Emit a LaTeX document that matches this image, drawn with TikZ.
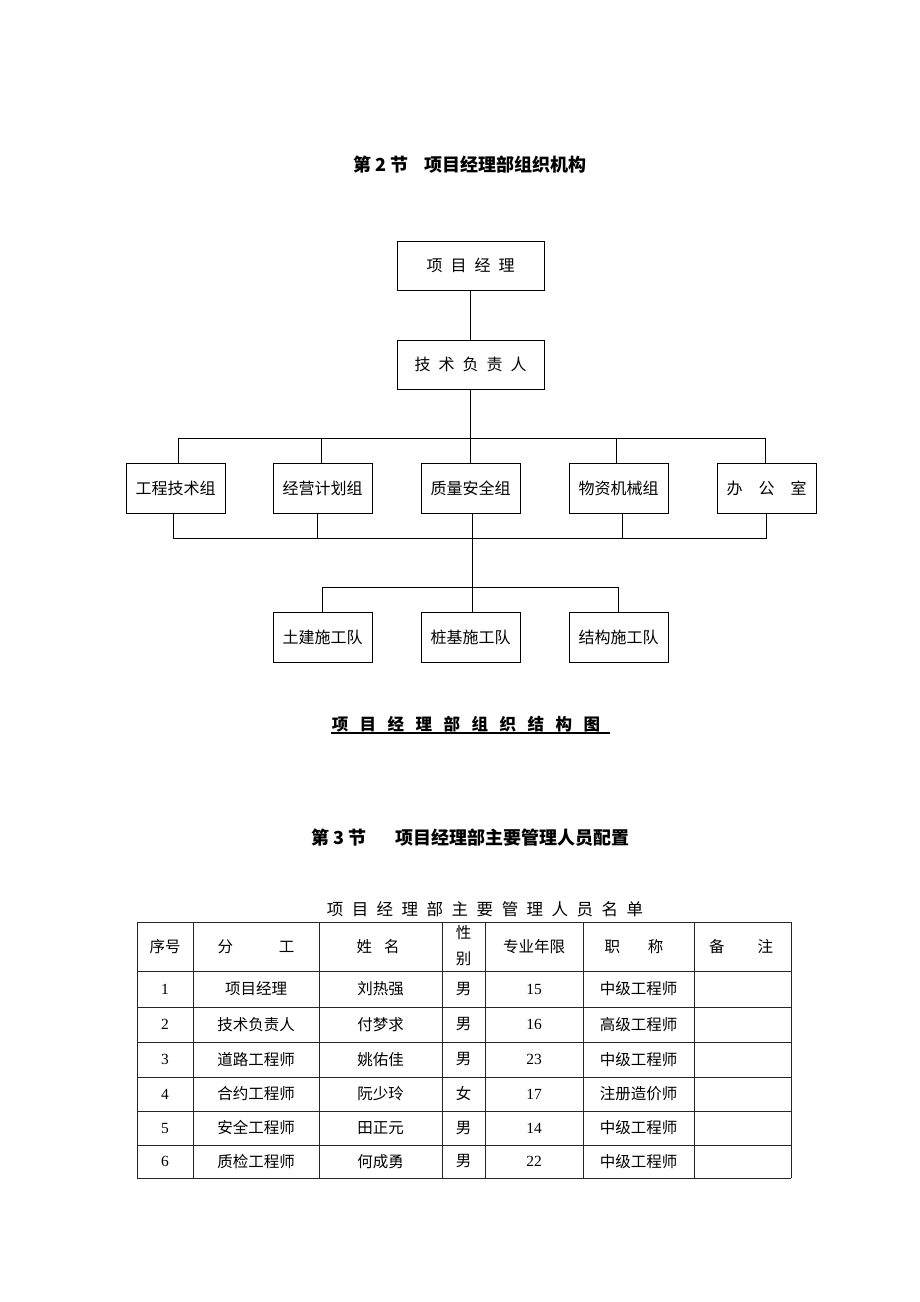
\documentclass[tikz,border=0pt]{standalone}
\usepackage{fontspec}
\setmainfont{Liberation Serif}
\newfontfamily\cjk{Noto Sans CJK SC}
\begin{document}
\begin{tikzpicture}[x=1pt,y=-1pt,
  box/.style={draw,line width=0.8pt,minimum width=99pt,minimum height=50pt,inner sep=0pt,font=\cjk\fontsize{16}{18}\selectfont},
  conn/.style={line width=0.8pt},
  grid/.style={line width=1pt,draw=black!85},
  cell/.style={inner sep=0pt,font=\cjk\fontsize{15.5}{18}\selectfont},
  num/.style={inner sep=0pt,font=\rmfamily\fontsize{15.5}{18}\selectfont},
  sect/.style={inner sep=0pt,font=\cjk\bfseries\fontsize{18}{20}\selectfont}]
\fill[white] (0,0) rectangle (920,1302);
\useasboundingbox (0,0) rectangle (920,1302);

% Section 2 title
\node[sect] (s2) at (470,165) {第 2 节\hspace{16pt}项目经理部组织机构};

% top boxes
\node[box,minimum width=147pt,minimum height=49pt] (pm) at (470.5,265.5) {项\hspace{8pt}目\hspace{8pt}经\hspace{8pt}理};
\node[box,minimum width=147pt,minimum height=49pt] (tech) at (470.5,364.5) {技\hspace{8pt}术\hspace{8pt}负\hspace{8pt}责\hspace{8pt}人};

% groups
\node[box] (g1) at (175.5,488) {工程技术组};
\node[box] (g2) at (322.5,488) {经营计划组};
\node[box] (g3) at (470.5,488) {质量安全组};
\node[box] (g4) at (618.5,488) {物资机械组};
\node[box] (g5) at (766.5,488) {办\hspace{16pt}公\hspace{16pt}室};

% teams
\node[box] (t1) at (322.5,637) {土建施工队};
\node[box] (t2) at (470.5,637) {桩基施工队};
\node[box] (t3) at (618.5,637) {结构施工队};

\coordinate (busT) at (470.5,438);
\coordinate (busB) at (472,538);
\coordinate (busC) at (472,587);

\draw[conn] (pm.south) -- (tech.north);
\draw[conn] (tech.south) -- (busT);
\draw[conn] ([xshift=2.5pt]g1.north) -- ([xshift=2.5pt]g1.north |- busT) -- ([xshift=-1.5pt]g5.north |- busT) -- ([xshift=-1.5pt]g5.north);
\draw[conn] ([xshift=-1.5pt]g2.north) -- ([xshift=-1.5pt]g2.north |- busT);
\draw[conn] (g3.north) -- (g3.north |- busT);
\draw[conn] ([xshift=-2.5pt]g4.north) -- ([xshift=-2.5pt]g4.north |- busT);

\draw[conn] ([xshift=-2.5pt]g1.south) -- ([xshift=-2.5pt]g1.south |- busB) -- ([xshift=-0.5pt]g5.south |- busB) -- ([xshift=-0.5pt]g5.south);
\draw[conn] ([xshift=-5.5pt]g2.south) -- ([xshift=-5.5pt]g2.south |- busB);
\draw[conn] ([xshift=1.5pt]g3.south) -- (busB);
\draw[conn] ([xshift=3.5pt]g4.south) -- ([xshift=3.5pt]g4.south |- busB);

\draw[conn] (busB) -- (busC);
\draw[conn] (t1.north) -- (t1.north |- busC) -- (t3.north |- busC) -- (t3.north);
\draw[conn] ([xshift=1.5pt]t2.north) -- ([xshift=1.5pt]t2.north |- busC);

% caption
\node[inner sep=0pt,font=\cjk\bfseries\fontsize{16.5}{18}\selectfont] (cap) at (466,724) {项\hspace{11.5pt}目\hspace{11.5pt}经\hspace{11.5pt}理\hspace{11.5pt}部\hspace{11.5pt}组\hspace{11.5pt}织\hspace{11.5pt}结\hspace{11.5pt}构\hspace{11.5pt}图};
\draw[line width=1.2pt] (331,733) -- (610,733);

% Section 3 title
\node[sect] (s3) at (470.5,838) {第 3 节\hspace{29pt}项目经理部主要管理人员配置};

% table title
\node[inner sep=0pt,font=\cjk\fontsize{16.5}{18}\selectfont] (tt) at (485,909) {项\hspace{8.5pt}目\hspace{8.5pt}经\hspace{8.5pt}理\hspace{8.5pt}部\hspace{8.5pt}主\hspace{8.5pt}要\hspace{8.5pt}管\hspace{8.5pt}理\hspace{8.5pt}人\hspace{8.5pt}员\hspace{8.5pt}名\hspace{8.5pt}单};

% table grid
\foreach \x in {137,193,319,442,485,583,694,791}
  \draw[grid] (\x,922) -- (\x,1178);
\foreach \y in {922,971,1007,1042,1077,1111,1145,1178}
  \draw[grid] (137,\y) -- (791,\y);

% header
\node[cell] (h1) at (165,946.5) {序号};
\node[cell] (h2) at (256,946.5) {分\hspace{46pt}工};
\node[cell] (h3) at (378,946.5) {姓\hspace{12pt}名};
\node[cell] (h4a) at (463.5,933) {性};
\node[cell] (h4b) at (463.5,959) {别};
\node[cell] (h5) at (534,946.5) {专业年限};
\node[cell] (h6) at (634,946.5) {职\hspace{28pt}称};
\node[cell] (h7) at (741,946.5) {备\hspace{33pt}注};

% rows
\foreach \i/\y/\role/\name/\sex/\yrs/\title in {
  1/989/项目经理/刘热强/男/15/中级工程师,
  2/1024.5/技术负责人/付梦求/男/16/高级工程师,
  3/1059.5/道路工程师/姚佑佳/男/23/中级工程师,
  4/1094/合约工程师/阮少玲/女/17/注册造价师,
  5/1128/安全工程师/田正元/男/14/中级工程师,
  6/1161.5/质检工程师/何成勇/男/22/中级工程师}{
  \node[num] (r\i a) at (165,\y) {\i};
  \node[cell] (r\i b) at (256,\y) {\role};
  \node[cell] (r\i c) at (380.5,\y) {\name};
  \node[cell] (r\i d) at (463.5,\y) {\sex};
  \node[num] (r\i e) at (534,\y) {\yrs};
  \node[cell] (r\i f) at (638.5,\y) {\title};
}
\end{tikzpicture}
\end{document}
